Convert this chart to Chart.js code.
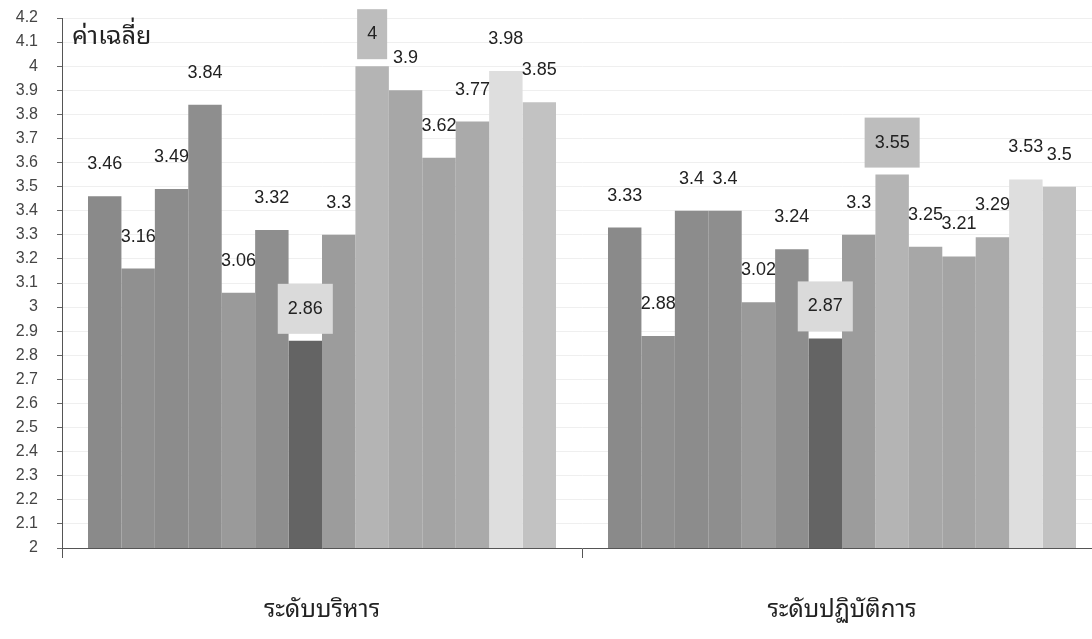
<!DOCTYPE html>
<html lang="th">
<head>
<meta charset="utf-8">
<title>ค่าเฉลี่ย</title>
<script src="https://cdn.jsdelivr.net/npm/chart.js@4.4.1/dist/chart.umd.min.js"></script>
<style>
  html, body { margin: 0; padding: 0; background: #fff; overflow: hidden; }
  #wrap { width: 1104px; height: 639px; }
</style>
</head>
<body>
<div id="wrap"><canvas id="chart" width="1104" height="639"></canvas></div>
<script>
// Mean scores per group (14 items each)
const categories = ['ระดับบริหาร', 'ระดับปฏิบัติการ'];
const executiveMeans   = [3.46, 3.16, 3.49, 3.84, 3.06, 3.32, 2.86, 3.3, 4, 3.9, 3.62, 3.77, 3.98, 3.85];
const operationalMeans = [3.33, 2.88, 3.4, 3.4, 3.02, 3.24, 2.87, 3.3, 3.55, 3.25, 3.21, 3.29, 3.53, 3.5];
const itemNames = ['ข้อ 1', 'ข้อ 2', 'ข้อ 3', 'ข้อ 4', 'ข้อ 5', 'ข้อ 6', 'ข้อ 7',
                   'ข้อ 8', 'ข้อ 9', 'ข้อ 10', 'ข้อ 11', 'ข้อ 12', 'ข้อ 13', 'ข้อ 14'];
const yAxisTitle = 'ค่าเฉลี่ย';
const yMin = 2, yMax = 4.2, yStep = 0.1;

// Grey shades for each item, and fills behind a few value labels
const itemColors = ['#8a8a8a', '#909090', '#8c8c8c', '#8e8e8e', '#9a9a9a', '#8e8e8e', '#646464',
                    '#9c9c9c', '#b4b4b4', '#a7a7a7', '#a4a4a4', '#aaaaaa', '#dedede', '#c2c2c2'];
const labelFills = [null, null, null, null, null, null, '#dadada',
                    null, '#bdbdbd', null, null, null, null, null];

const THAI_FONT = "'Noto Sans Thai Looped', 'Loma', 'Garuda', 'Norasi', 'Tlwg Typo', 'Noto Serif Thai', 'Noto Sans Thai', sans-serif";
const NUM_FONT = "'Liberation Sans', Arial, sans-serif";

const datasets = itemNames.map((name, i) => ({
  label: name,
  data: [executiveMeans[i], operationalMeans[i]],
  backgroundColor: itemColors[i],
  borderWidth: 0,
  labelFill: labelFills[i]
}));

// Value labels above each bar
const valueLabels = {
  id: 'valueLabels',
  afterDatasetsDraw(chart) {
    const ctx = chart.ctx;
    ctx.save();
    ctx.font = '18px ' + NUM_FONT;
    ctx.textAlign = 'center';
    ctx.textBaseline = 'middle';
    chart.data.datasets.forEach((ds, di) => {
      const meta = chart.getDatasetMeta(di);
      meta.data.forEach((bar, idx) => {
        const txt = String(ds.data[idx]);
        const x = bar.x, y = bar.y - 32;
        if (ds.labelFill) {
          const w = ctx.measureText(txt).width + 20;
          ctx.fillStyle = ds.labelFill;
          ctx.fillRect(x - w / 2, y - 25, w, 50);
        }
        ctx.fillStyle = '#222';
        ctx.fillText(txt, x, y);
      });
    });
    ctx.restore();
  }
};

// Axis title placed inside the top-left corner of the plot
const cornerTitle = {
  id: 'cornerTitle',
  afterDraw(chart) {
    const ctx = chart.ctx;
    const y = chart.scales.y.getPixelForValue(4.12);
    ctx.save();
    ctx.font = '25px ' + THAI_FONT;
    ctx.fillStyle = '#222';
    ctx.textAlign = 'left';
    ctx.textBaseline = 'middle';
    ctx.fillText(yAxisTitle, chart.chartArea.left + 10, y);
    ctx.restore();
  }
};

new Chart(document.getElementById('chart'), {
  type: 'bar',
  data: { labels: categories, datasets },
  plugins: [valueLabels, cornerTitle],
  options: {
    responsive: false,
    devicePixelRatio: 1,
    animation: false,
    layout: { padding: { top: 18, right: 2, left: 0, bottom: 0 } },
    datasets: { bar: { categoryPercentage: 0.9, barPercentage: 1.0 } },
    plugins: { legend: { display: false }, tooltip: { enabled: false } },
    scales: {
      x: {
        afterFit(s) { s.height = 91; },
        grid: { offset: true, drawOnChartArea: false, tickLength: 10, color: '#555', lineWidth: 1 },
        border: { color: '#555', width: 1 },
        ticks: { font: { family: THAI_FONT, size: 24 }, color: '#222', padding: 38 }
      },
      y: {
        min: yMin, max: yMax,
        afterFit(s) { s.width = 62; s.paddingTop = 0; s.paddingBottom = 0; },
        grid: { color: '#efefef', tickColor: '#666', tickLength: 5, lineWidth: 1 },
        border: { color: '#555', width: 1 },
        ticks: {
          stepSize: yStep,
          padding: 19,
          color: '#444',
          font: { family: NUM_FONT, size: 16 },
          callback: v => String(Number(v.toFixed(1)))
        }
      }
    }
  }
});
</script>
</body>
</html>
